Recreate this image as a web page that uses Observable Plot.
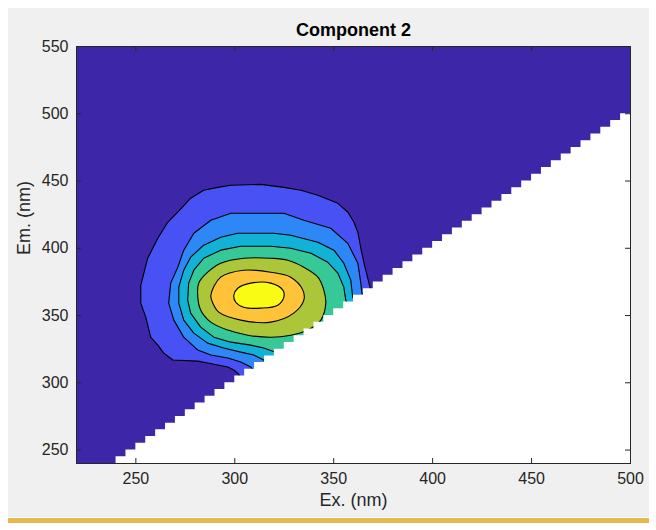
<!DOCTYPE html>
<html><head><meta charset="utf-8">
<script src="https://cdn.jsdelivr.net/npm/d3@7"></script>
<script src="https://cdn.jsdelivr.net/npm/@observablehq/plot@0.6"></script>
<style>
body{margin:0;background:#fff;}
#wrap{position:relative;width:656px;height:530px;overflow:hidden;background:#fff;}
#panel{position:absolute;left:8px;top:8px;width:641px;height:509px;background:#f0f0f0;}
#rule{position:absolute;left:8px;top:518px;width:641px;height:5px;background:#e9b84c;}
#chart{position:absolute;left:0;top:0;}
</style></head><body>
<div id="wrap"><div id="panel"></div><div id="rule"></div><div id="chart"></div></div>
<script>
const title = "Component 2";
const xLabel = "Ex. (nm)";
const yLabel = "Em. (nm)";
const xDomain = [220, 500];
const yDomain = [240, 550];
const xTicks = [250, 300, 350, 400, 450, 500];
const yTicks = [250, 300, 350, 400, 450, 500, 550];
const levelColors = ["#3e26a8", "#4852f4", "#2d87f7", "#12b1d6", "#37c897", "#abc739", "#fec338", "#f9fb15"];

// contour outlines [Ex, Em] (outermost first)
const contour1 = [[301.5,307.2],[299.5,309.5],[296.5,311.7],[291.4,313.2],[286.3,314.7],[281.3,316.1],[268.7,316.9],[264.1,322.1],[261.1,328.0],[257.5,333.9],[255.0,348.8],[252.5,359.2],[252.5,372.6],[256.0,392.6],[261.1,407.5],[266.1,419.3],[271.2,426.8],[277.7,437.2],[284.3,443.1],[291.4,445.3],[298.0,446.8],[313.1,447.5],[324.8,445.3],[333.4,443.1],[342.0,439.4],[352.1,433.4],[357.2,426.8],[360.2,419.3],[362.2,411.9],[363.7,400.0],[365.2,389.6],[367.2,377.8],[368.7,368.9],[374,360],[374,300],[305,300]];
const contour2 = [[308.1,311.7],[303.0,315.4],[296.5,318.4],[287.9,320.6],[281.3,324.3],[274.2,333.9],[269.2,346.6],[266.6,359.2],[267.6,374.1],[271.2,385.9],[274.2,398.6],[279.3,411.2],[287.9,420.8],[298.0,426.0],[324.8,426.0],[334.9,420.8],[348.5,414.9],[357.1,403.7],[362.2,388.9],[363.7,374.1],[364.2,366.6],[372,355],[315,300]];
const contour3 = [[314.6,316.9],[309.6,320.6],[303.0,322.8],[294.4,325.8],[286.3,329.5],[279.3,336.9],[274.2,346.6],[271.7,359.2],[271.7,371.1],[274.2,383.7],[277.7,393.4],[284.3,402.3],[292.9,408.2],[301.5,411.2],[319.7,411.2],[328.3,409.7],[342.0,404.5],[350.1,398.6],[355.1,388.9],[358.6,376.3],[359.6,363.7],[366,350],[320,305]];
const contour4 = [[321.7,322.1],[314.6,325.8],[308.1,328.0],[298.0,330.2],[289.4,333.9],[282.8,341.4],[277.7,351.8],[276.2,361.4],[276.7,374.1],[279.3,383.7],[284.3,392.6],[292.9,398.6],[303.0,401.5],[318.2,401.5],[328.3,400.0],[338.5,396.3],[347.0,389.6],[352.1,381.5],[355.1,371.1],[356.1,361.4],[362,345],[328,315]];
const contour5 = [[292.9,388.9],[286.3,382.2],[281.8,374.1],[281.3,363.7],[282.8,354.0],[287.9,345.1],[296.5,339.2],[306.6,335.4],[318.2,333.9],[328.3,335.4],[336.9,339.2],[343.5,346.6],[346.0,359.2],[345.0,368.9],[342.0,378.5],[334.9,385.9],[326.8,391.1],[318.2,392.6],[304.5,392.6]];
const contour6 = [[287.9,365.1],[292.9,378.5],[304.5,383.7],[318.2,382.2],[328.3,378.5],[334.4,368.9],[334.9,361.4],[329.8,351.8],[318.2,345.1],[303.0,346.6],[291.9,352.5],[288.9,359.2]];
const contour7 = [[299.5,365.1],[301.5,370.3],[308.1,374.1],[318.2,374.1],[324.3,368.9],[324.8,363.7],[321.7,357.7],[313.1,355.5],[304.5,356.2],[300.5,359.9]];
const contours = [contour1, contour2, contour3, contour4, contour5, contour6, contour7];

// masked (blank) region below the scatter line: Ex column start and Em top of mask
const maskEx = [240,245,250,255,260,265,270,275,280,285,290,295,300,305,310,315,320,325,330,335,340,345,350,355,360,365,370,375,380,385,390,395,400,405,410,415,420,425,430,435,440,445,450,455,460,465,470,475,480,485,490,495,500];
const maskEm = [245,250,255,260,265,270,275,280,285,290,295,300,305,310,315,320,325,330,335,340,345,350,355,360,365,370,375,380,385,390,395,400,405,410,415,420,425,430,435,440,445,450,455,460,465,470,475,480,485,490,495,500,500];
const maskData = maskEx.map((e, i) => ({ex: e, em: maskEm[i]}));

const W = 656, H = 530, ML = 76, MR = 26, MT = 46, MB = 67;
const pw = W - ML - MR, ph = H - MT - MB;
const ink = "#262626";

const chart = Plot.plot({
  width: W, height: H,
  marginLeft: ML, marginRight: MR, marginTop: MT, marginBottom: MB,
  style: {background: "transparent", fontFamily: "'Liberation Sans', Arial, Helvetica, sans-serif", color: ink, overflow: "visible"},
  x: {domain: xDomain},
  y: {domain: yDomain},
  marks: [
    Plot.frame({fill: levelColors[0]}),
    ...contours.map((c, i) => Plot.line(c, {x: d => d[0], y: d => d[1], curve: i >= 4 ? "catmull-rom-closed" : "linear-closed", fill: levelColors[i + 1], stroke: "#000", strokeWidth: 1.1})),
    Plot.areaY(maskData, {x: "ex", y1: () => yDomain[0], y2: "em", curve: "step-after", fill: "white"}),
    Plot.tickX(xTicks, {x: d => d, stroke: ink, insetTop: ph - 5}),
    Plot.tickX(xTicks, {x: d => d, stroke: ink, insetBottom: ph - 5}),
    Plot.tickY(yTicks, {y: d => d, stroke: ink, insetRight: pw - 5}),
    Plot.tickY(yTicks, {y: d => d, stroke: ink, insetLeft: pw - 5}),
    Plot.frame({stroke: ink}),
    Plot.axisX(xTicks, {tickSize: 0, tickPadding: 9, fontSize: 16, label: null}),
    Plot.axisY(yTicks, {tickSize: 0, tickPadding: 8, fontSize: 16, label: null}),
    Plot.text([title], {text: d => d, frameAnchor: "top", dy: -23, fontSize: 18, fontWeight: "bold", fill: "#000"}),
    Plot.text([xLabel], {text: d => d, frameAnchor: "bottom", dy: 42, fontSize: 18, fill: ink}),
    Plot.text([yLabel], {text: d => d, frameAnchor: "left", dx: -52, rotate: -90, fontSize: 18, fill: ink})
  ]
});
document.getElementById("chart").appendChild(chart);
</script>
</body></html>
